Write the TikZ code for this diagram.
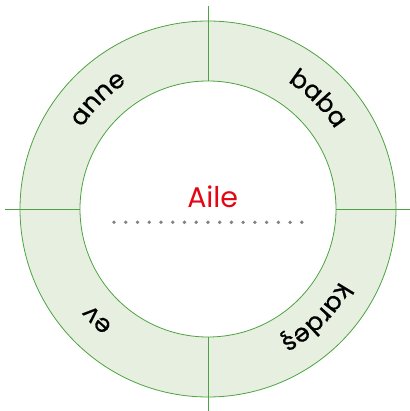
\documentclass[tikz,border=0pt]{standalone}
\usepackage{fontspec}
\setmainfont{Poppins}
\newfontfamily\ringface[FakeBold=0.6]{Poppins}
\usetikzlibrary{positioning,decorations.text}
\definecolor{ringline}{RGB}{77,163,65}
\definecolor{ringfill}{RGB}{231,240,224}
\definecolor{ailered}{RGB}{227,6,19}
\definecolor{dotgray}{RGB}{130,130,130}
\newcommand{\ringfont}{\ringface\fontsize{25}{25}\selectfont}
\tikzset{
    ring/.style={draw=ringline,line width=0.8pt},
    divider/.style={-,draw=ringline,line width=0.8pt},
    title/.style={text=ailered,font=\fontsize{28.5}{28.5}\selectfont},
    dotrow/.style={draw=dotgray,line width=3.8pt,line cap=round,dash pattern=on 0pt off 11.74pt},
    ringtext/.style={decorate,decoration={text along path,text align=center,text color=black}}
}

\begin{document}
\begin{tikzpicture}[x=1pt,y=1pt]

                \useasboundingbox (-208,-202) rectangle (201,209);

                \coordinate (centre) at (0,0);
                \fill[ringfill,even odd rule] (centre) circle[radius=188] (centre) circle[radius=128];
                \draw[ring] (centre) circle[radius=188];
                \draw[ring] (centre) circle[radius=128];

                \foreach \a in {0,90,180,270}
                    \draw[divider] (\a:128) -- (\a:203);

                % words round the ring, read clockwise
                \path[ringtext,decoration={text={|\ringfont|anne}}] (175:150) arc[start angle=175,end angle=95,radius=150];
                \path[ringtext,decoration={text={|\ringfont|baba}}] (85:150) arc[start angle=85,end angle=5,radius=150];
                \path[ringtext,decoration={text={|\ringfont|kardeş}}] (355:150) arc[start angle=355,end angle=275,radius=150];
                \path[ringtext,decoration={text={|\ringfont|ev}}] (265:150) arc[start angle=265,end angle=185,radius=150];

                \node[title,anchor=base] (aile) at (4.7,1.8) {Aile};

                \coordinate (dots west) at (-94,-13.3);
                \coordinate (dots east) at (94,-13.3);
                \draw[dotrow] (dots west) -- (dots east);

            \end{tikzpicture}
\end{document}
